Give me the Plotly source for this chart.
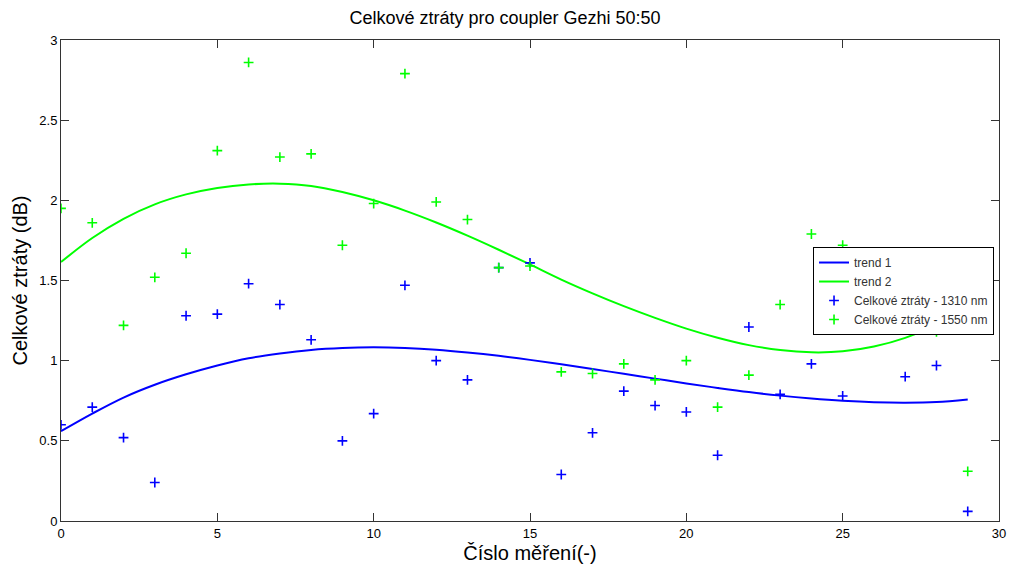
import plotly.graph_objects as go

x_meas = list(range(30))

loss_1310 = [0.60, 0.71, 0.52, 0.24, 1.28, 1.29, 1.48, 1.35, 1.13, 0.50,
             0.67, 1.47, 1.00, 0.88, 1.58, 1.61, 0.29, 0.55, 0.81, 0.72,
             0.68, 0.41, 1.21, 0.79, 0.98, 0.78, 1.21, 0.90, 0.97, 0.06]

loss_1550 = [1.95, 1.86, 1.22, 1.52, 1.67, 2.31, 2.86, 2.27, 2.29, 1.72,
             1.98, 2.79, 1.99, 1.88, 1.58, 1.59, 0.93, 0.92, 0.98, 0.88,
             1.00, 0.71, 0.91, 1.35, 1.79, 1.72, 1.50, 1.40, 1.18, 0.31]

trend_1 = [0.56, 0.67, 0.77, 0.85, 0.915, 0.97, 1.015, 1.045, 1.067, 1.079,
           1.083, 1.079, 1.068, 1.051, 1.030, 1.005, 0.977, 0.948, 0.918, 0.888,
           0.858, 0.830, 0.804, 0.782, 0.764, 0.750, 0.741, 0.738, 0.742, 0.758]

trend_2 = [1.615, 1.765, 1.885, 1.975, 2.037, 2.077, 2.099, 2.104, 2.090, 2.052,
           2.000, 1.936, 1.862, 1.780, 1.692, 1.600, 1.506, 1.420, 1.340, 1.267,
           1.200, 1.143, 1.097, 1.066, 1.052, 1.058, 1.088, 1.142, 1.225, 1.345]

BLUE = "#0000FF"
GREEN = "#00FF00"
FONT = "Liberation Sans, Arial, sans-serif"

fig = go.Figure()
fig.add_trace(go.Scatter(x=x_meas, y=trend_1, mode="lines", name="trend 1",
                         line=dict(color=BLUE, width=2, shape="spline")))
fig.add_trace(go.Scatter(x=x_meas, y=trend_2, mode="lines", name="trend 2",
                         line=dict(color=GREEN, width=2, shape="spline")))
fig.add_trace(go.Scatter(x=x_meas, y=loss_1310, mode="markers",
                         name="Celkové ztráty - 1310 nm",
                         marker=dict(symbol="cross-thin", size=7, color=BLUE,
                                     line=dict(color=BLUE, width=1.6))))
fig.add_trace(go.Scatter(x=x_meas, y=loss_1550, mode="markers",
                         name="Celkové ztráty - 1550 nm",
                         marker=dict(symbol="cross-thin", size=7, color=GREEN,
                                     line=dict(color=GREEN, width=1.6))))

axis_common = dict(showline=True, linecolor="#333", linewidth=1, mirror="ticks",
                   ticks="inside", ticklen=8, tickcolor="#333", showgrid=False,
                   zeroline=False, automargin=False,
                   tickfont=dict(family=FONT, size=13, color="#000"))

fig.update_layout(
    width=1010, height=565,
    paper_bgcolor="white", plot_bgcolor="white",
    margin=dict(l=61, r=11, t=40, b=44),
    title=dict(text="Celkové ztráty pro coupler Gezhi 50:50", x=0.5, xanchor="center",
               y=1 - 18 / 565, yanchor="middle", yref="container",
               font=dict(family=FONT, size=18, color="#000")),
    xaxis=dict(range=[0, 30], tickvals=[0, 5, 10, 15, 20, 25, 30],
               title=dict(text="Číslo měření(-)", standoff=6,
                          font=dict(family=FONT, size=20, color="#000")),
               **axis_common),
    yaxis=dict(range=[0, 3], tickvals=[0, 0.5, 1, 1.5, 2, 2.5, 3],
               ticktext=["0", "0.5", "1", "1.5", "2", "2.5", "3"],
               title=dict(text="Celkové ztráty (dB)", standoff=6,
                          font=dict(family=FONT, size=20, color="#000")),
               **axis_common),
    legend=dict(x=0.9947, xanchor="right", y=0.5696, yanchor="top",
                bgcolor="white", bordercolor="#000", borderwidth=1,
                font=dict(family=FONT, size=12, color="#333"),
                tracegroupgap=0),
    showlegend=True,
)

fig.write_html("out.html")
